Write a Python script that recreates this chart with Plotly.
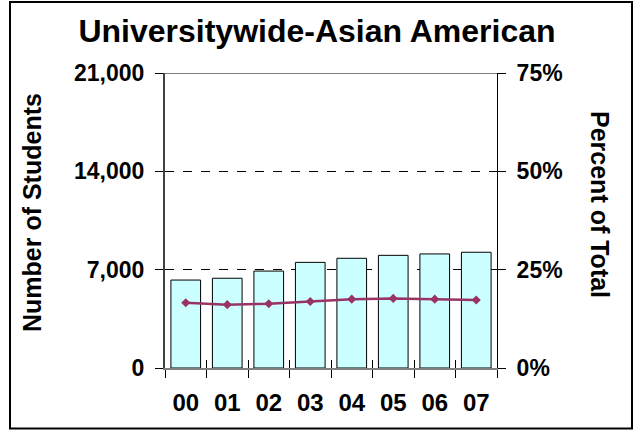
import plotly.graph_objects as go

# Fall enrollment, Asian American students, universitywide
years = ["00", "01", "02", "03", "04", "05", "06", "07"]
students = [6260, 6390, 6900, 7520, 7810, 8020, 8120, 8240]
pct_of_total = [16.6, 16.1, 16.35, 16.9, 17.5, 17.7, 17.5, 17.3]

left_ticks = [0, 7000, 14000, 21000]
right_ticks = [0, 25, 50, 75]
right_labels = [f"{v}%" for v in right_ticks]

FONT = "Liberation Sans, Arial, sans-serif"

fig = go.Figure()

fig.add_trace(go.Bar(
    x=years, y=students,
    marker=dict(color="#CCFFFF", line=dict(color="black", width=1)),
    xaxis="x", yaxis="y", showlegend=False,
))

fig.add_trace(go.Scatter(
    x=years, y=pct_of_total, mode="lines+markers",
    line=dict(color="#993366", width=2.5),
    marker=dict(color="#993366", size=7, symbol="diamond"),
    xaxis="x2", yaxis="y2", showlegend=False,
))

ytickfont = dict(family=FONT, size=23, color="black", weight="bold")
xtickfont = dict(family=FONT, size=24, color="black", weight="bold")
titlefont = dict(family=FONT, size=25, color="black", weight="bold")

fig.update_layout(
    width=634, height=430,
    margin=dict(l=165, r=137, t=73, b=62),
    paper_bgcolor="white", plot_bgcolor="white",
    bargap=0.285,
    title=dict(text="Universitywide-Asian American", x=0.5, xanchor="center",
               y=1 - 31 / 430, yanchor="middle",
               font=dict(family=FONT, size=32, color="black", weight="bold")),
    xaxis=dict(type="category", categoryorder="array", categoryarray=years,
               range=[-0.5, 7.5], tickson="boundaries",
               ticks="outside", ticklen=8, tickcolor="black", tickwidth=1,
               showline=True, linecolor="#808080", linewidth=2,
               tickfont=xtickfont, ticklabelstandoff=12, showgrid=False),
    xaxis2=dict(type="category", categoryorder="array", categoryarray=years,
                range=[-0.5, 7.5], tickson="boundaries", overlaying="x",
                anchor="y", side="bottom",
                ticks="inside", ticklen=8, tickcolor="black", tickwidth=1,
                showticklabels=False, showgrid=False, showline=False),
    yaxis=dict(range=[0, 21000], tickvals=left_ticks, tickformat=",d",
               ticks="outside", ticklen=8, tickcolor="black", tickwidth=1,
               showline=True, linecolor="#404040", linewidth=2,
               showgrid=True, gridcolor="black", gridwidth=1, griddash="dash",
               zeroline=False, tickfont=ytickfont, ticklabelstandoff=6),
    yaxis2=dict(range=[0, 75], tickvals=right_ticks, ticktext=right_labels,
                overlaying="y", side="right", anchor="x",
                ticks="outside", ticklen=8, tickcolor="black", tickwidth=1,
                showline=True, linecolor="black", linewidth=1,
                showgrid=False, zeroline=False, tickfont=ytickfont,
                ticklabelstandoff=6),
    annotations=[
        dict(text="Number of Students", xref="paper", yref="paper",
             x=(32 - 165) / 332, y=(368 - 213) / 295, textangle=-90,
             showarrow=False, xanchor="center", yanchor="middle",
             font=titlefont),
        dict(text="Percent of Total", xref="paper", yref="paper",
             x=(600 - 165) / 332, y=(368 - 204) / 295, textangle=90,
             showarrow=False, xanchor="center", yanchor="middle",
             font=titlefont),
    ],
    shapes=[
        # solid line along the top of the value range
        dict(type="line", xref="paper", yref="y", x0=0, x1=1,
             y0=21000, y1=21000, line=dict(color="black", width=1)),
        # outer frame around the whole chart
        dict(type="rect", xref="paper", yref="paper",
             x0=(10 - 165) / 332, x1=(632 - 165) / 332,
             y0=(368 - 428.5) / 295, y1=(368 - 2) / 295,
             line=dict(color="black", width=2), fillcolor="rgba(0,0,0,0)",
             layer="below"),
    ],
)

fig.write_html("out.html")
